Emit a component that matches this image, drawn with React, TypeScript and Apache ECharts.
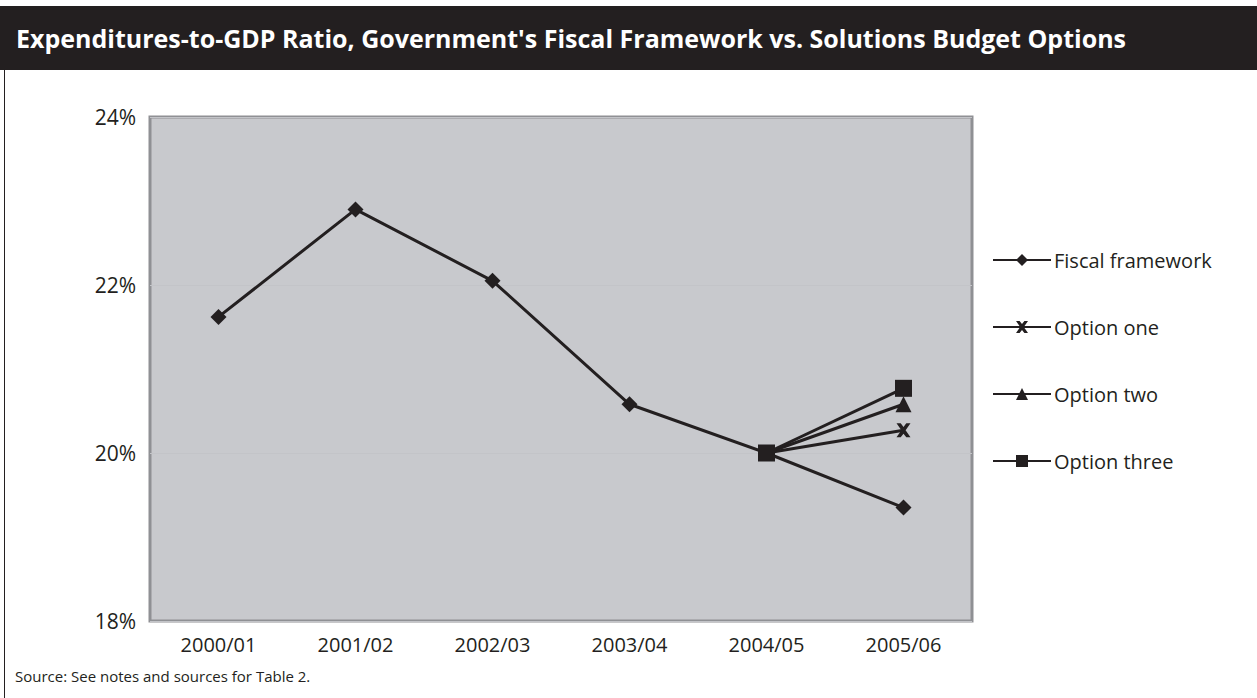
import React, { useEffect, useRef } from "react";
import * as echarts from "echarts";

const title = "Expenditures-to-GDP Ratio, Government's Fiscal Framework vs. Solutions Budget Options";
const sourceNote = "Source: See notes and sources for Table 2.";
const categories = ["2000/01", "2001/02", "2002/03", "2003/04", "2004/05", "2005/06"];
const fiscalFramework = [21.62, 22.9, 22.05, 20.58, 20.0, 19.35];
const optionOne = [null, null, null, null, 20.0, 20.27];
const optionTwo = [null, null, null, null, 20.0, 20.58];
const optionThree = [null, null, null, null, 20.0, 20.77];
const seriesNames = ["Fiscal framework", "Option one", "Option two", "Option three"];

const INK = "#231f20";
const FONT = "'Open Sans', 'Noto Sans', sans-serif";
const CROSS = "path://M0,0 L3,0 L5,2.6 L7,0 L10,0 L6.5,5 L10,10 L7,10 L5,7.4 L3,10 L0,10 L3.5,5 Z";

export default function App() {
  const ref = useRef<HTMLDivElement>(null);
  useEffect(() => {
    if (!ref.current) return;
    const chart = echarts.init(ref.current, undefined, { renderer: "svg" });
    const mk = (name: string, data: (number | null)[], symbol: string, size: number) => ({
      name,
      type: "line",
      data,
      symbol,
      symbolSize: size,
      showSymbol: true,
      connectNulls: false,
      lineStyle: { color: INK, width: 3 },
      itemStyle: { color: INK, borderWidth: 0 },
      z: 3,
    });
    chart.setOption({
      animation: false,
      backgroundColor: "#ffffff",
      textStyle: { fontFamily: FONT },
      graphic: [
        { type: "rect", shape: { x: 4.5, y: 6.5, width: 1300, height: 760 }, style: { fill: "#ffffff", stroke: INK, lineWidth: 1 }, z: -10 },
        { type: "rect", shape: { x: 0, y: 6, width: 1257, height: 64 }, style: { fill: INK }, z: -5 },
        { type: "text", x: 16, y: 38, style: { text: title, fill: "#ffffff", font: `bold 25px ${FONT}`, textVerticalAlign: "middle" } },
        { type: "text", x: 15, y: 676, style: { text: sourceNote, fill: INK, font: `15px ${FONT}`, textVerticalAlign: "middle" } },
      ],
      grid: {
        left: 150, right: 285, top: 117, bottom: 77,
        show: true, backgroundColor: "#c8c9cd", borderColor: "#8f9094", borderWidth: 3,
      },
      legend: {
        orient: "vertical",
        left: 992,
        top: 250,
        padding: 0,
        itemWidth: 58,
        itemHeight: 15,
        itemGap: 47,
        data: seriesNames,
        textStyle: { fontSize: 20, color: INK, fontFamily: FONT, lineHeight: 20, padding: [0, 0, 0, -2] },
      },
      xAxis: {
        type: "category",
        data: categories,
        boundaryGap: true,
        axisLine: { show: false },
        axisTick: { show: false },
        axisLabel: { fontSize: 20, color: INK, margin: 13 },
      },
      yAxis: {
        type: "value",
        min: 18, max: 24, interval: 2,
        axisLine: { show: false },
        axisTick: { show: false },
        splitLine: { show: true, lineStyle: { color: "#c3c4c8", width: 1 } },
        axisLabel: { fontSize: 21, color: INK, margin: 14, formatter: "{value}%" },
      },
      series: [
        mk(seriesNames[0], fiscalFramework, "diamond", 16),
        mk(seriesNames[1], optionOne, CROSS, 14),
        mk(seriesNames[2], optionTwo, "triangle", 16),
        mk(seriesNames[3], optionThree, "rect", 17),
      ],
    });
    return () => chart.dispose();
  }, []);
  return <div ref={ref} style={{ position: "fixed", left: 0, top: 0, width: 1257, height: 698 }} />;
}
